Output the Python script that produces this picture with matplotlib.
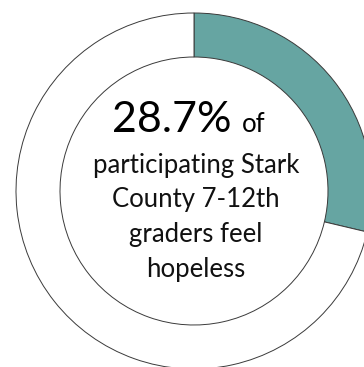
import matplotlib.pyplot as plt

# share of students, rest of the ring
labels = ["Feel hopeless", "Other"]
values = [28.7, 71.3]
colors = ["#66A5A2", "white"]

headline = "28.7%"
lines = ["participating Stark", "County 7-12th", "graders feel", "hopeless"]

W, H = 364, 367
fig = plt.figure(figsize=(W / 100, H / 100), dpi=100)
ax = fig.add_axes([0, 0, 1, 1])

# ring centre sits at pixel (194, 191), outer radius 178 px, inner 134 px
cx, cy, r_px = 194, 191, 178
ax.pie(values, colors=colors, startangle=90, counterclock=False,
       radius=1.0,
       wedgeprops=dict(width=(178 - 134) / 178, edgecolor="#3a3a3a", linewidth=0.7))
ax.set_xlim(-cx / r_px, (W - cx) / r_px)
ax.set_ylim(-(H - cy) / r_px, cy / r_px)
ax.set_aspect("equal")
ax.axis("off")


def px(x, y):
    return (x - cx) / r_px, (cy - y) / r_px


font = "Lato"
ax.text(*px(231, 132), headline, ha="right", va="baseline", fontsize=31,
        family=font, color="black")
ax.text(*px(242, 132), "of", ha="left", va="baseline", fontsize=18.5,
        family=font, color="black")

for i, line in enumerate(lines):
    ax.text(*px(196, 173 + i * 34.5), line, ha="center", va="baseline",
            fontsize=18.5, family=font, color="#111111")

fig.savefig("out.png", dpi=100)
